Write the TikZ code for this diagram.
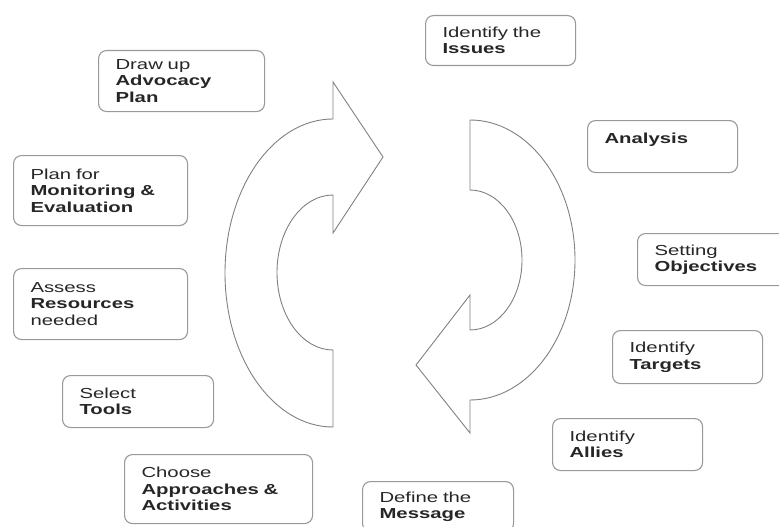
\documentclass[tikz,border=0pt]{standalone}
\usepackage{fontspec}
\newfontfamily\boxfont[FakeStretch=1.4]{Liberation Sans}

\begin{document}
\begin{tikzpicture}[
	x=1pt, y=-1pt,
	block/.style={rounded corners=8pt, anchor=north west, align=left,
	inner xsep=17pt, inner ysep=0pt, draw=gray!80, line width=1.1pt,
	font=\boxfont\fontsize{14.5}{16.5}\selectfont, text=black!85
	},
	sweep/.style={draw=gray, line width=0.9pt}]
\useasboundingbox (0,0) rectangle (779,527);
\clip (0,0) rectangle (779,527);

\node[draw, block, minimum width=150, minimum height=50, text width=116pt] (iti) at (425,15) {Identify the\\ \textbf{Issues}};
\node[draw, block, minimum width=150, minimum height=52, text width=116pt] (an) at (587,120) {\textbf{Analysis}\\ ~};
\node[draw, block, minimum width=152, minimum height=52, text width=118pt] (so) at (637,233) {Setting\\ \textbf{Objectives}};
\node[draw, block, minimum width=150, minimum height=53, text width=116pt] (it) at (612,330) {Identify\\ \textbf{Targets}};
\node[draw, block, minimum width=150, minimum height=52, text width=116pt] (ia) at (552,418) {Identify\\ \textbf{Allies}};
\node[draw, block, minimum width=151, minimum height=50, text width=117pt] (dm) at (362,481) {Define the\\ \textbf{Message}};
\node[draw, block, minimum width=188, minimum height=69, text width=154pt] (caa) at (124,454) {Choose\\ \textbf{Approaches \&}\\ \textbf{Activities}};
\node[draw, block, minimum width=151, minimum height=52, text width=117pt] (st) at (62,375) {Select\\ \textbf{Tools}};
\node[draw, block, minimum width=174, minimum height=71, text width=140pt] (arn) at (13,268) {Assess\\ \textbf{Resources}\\ needed};
\node[draw, block, minimum width=174, minimum height=70, text width=140pt] (pme) at (13,155) {Plan for\\ \textbf{Monitoring \&}\\ \textbf{Evaluation}};
\node[draw, block, minimum width=166, minimum height=61, text width=132pt] (dap) at (98,50) {Draw up\\ \textbf{Advocacy}\\ \textbf{Plan}};

\draw[sweep] (333,427) arc[start angle=90, end angle=270, x radius=108, y radius=154]
	-- (333,82) -- (383,157) -- (333,233) -- (333,195)
	arc[start angle=270, end angle=90, x radius=56, y radius=77.5] -- cycle;
\draw[sweep] (470,190) -- (470,120)
	arc[start angle=270, end angle=450, x radius=105, y radius=140]
	-- (470,433) -- (416,365) -- (470,295) -- (470,330)
	arc[start angle=90, end angle=-90, x radius=52, y radius=70] -- cycle;
\end{tikzpicture}
\end{document}
